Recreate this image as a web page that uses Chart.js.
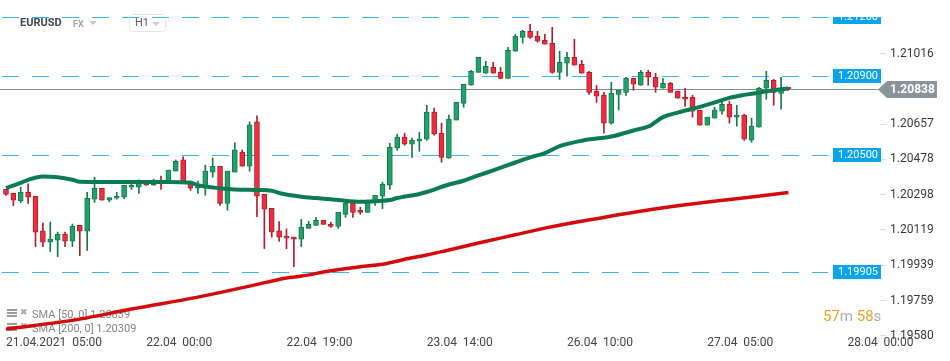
<!DOCTYPE html>
<html><head><meta charset="utf-8">
<script src="https://cdn.jsdelivr.net/npm/chart.js@4.4.0/dist/chart.umd.min.js"></script>
<style>
html,body{margin:0;padding:0;background:#fff;}
#wrap{position:relative;width:950px;height:361px;}
canvas{display:block;}
</style></head><body>
<div id="wrap"><canvas id="c" width="950" height="361"></canvas></div>
<script>
// ---------- data ----------
const symbol = 'EURUSD';
const market = 'FX';
const timeframe = 'H1';
const tickIndex = [0, 19, 38, 57, 76, 95, 114];
const tickLabels = ['21.04.2021  05:00', '22.04  00:00', '22.04  19:00', '23.04  14:00', '26.04  10:00', '27.04  05:00', '28.04  00:00'];
const yTicks = [1.19580, 1.19759, 1.19939, 1.20119, 1.20298, 1.20478, 1.20657, 1.21016];

const opens = [1.20325,1.20305,1.20267,1.20310,1.20290,1.20114,1.20057,1.20067,1.20097,1.20062,
1.20142,1.20113,1.20275,1.20331,1.20270,1.20280,1.20285,1.20336,1.20336,1.20362,
1.20346,1.20372,1.20362,1.20418,1.20475,1.20367,1.20331,1.20331,1.20413,1.20443,
1.20254,1.20413,1.20515,1.20443,1.20669,1.20300,1.20229,1.20114,1.20087,1.20082,
1.20072,1.20127,1.20142,1.20168,1.20147,1.20137,1.20198,1.20254,1.20219,1.20208,
1.20264,1.20290,1.20346,1.20535,1.20591,1.20555,1.20570,1.20581,1.20718,1.20611,
1.20484,1.20678,1.20763,1.20855,1.20921,1.20916,1.20946,1.20921,1.20890,1.21028,
1.21099,1.21130,1.21104,1.21084,1.21069,1.20921,1.20967,1.20997,1.20962,1.20921,
1.20825,1.20804,1.20662,1.20809,1.20819,1.20890,1.20855,1.20921,1.20896,1.20840,
1.20865,1.20825,1.20794,1.20794,1.20729,1.20652,1.20688,1.20723,1.20758,1.20693,
1.20703,1.20575,1.20642,1.20840,1.20880,1.20814,1.20845];
const highs = [1.20325,1.20305,1.20336,1.20353,1.20290,1.20154,1.20159,1.20108,1.20108,1.20149,
1.20142,1.20310,1.20387,1.20331,1.20283,1.20310,1.20346,1.20362,1.20374,1.20362,
1.20377,1.20393,1.20423,1.20475,1.20491,1.20367,1.20367,1.20448,1.20485,1.20443,
1.20418,1.20562,1.20526,1.20669,1.20699,1.20300,1.20229,1.20161,1.20124,1.20082,
1.20173,1.20163,1.20183,1.20168,1.20158,1.20208,1.20264,1.20254,1.20234,1.20271,
1.20295,1.20362,1.20560,1.20606,1.20611,1.20586,1.20616,1.20753,1.20739,1.20662,
1.20703,1.20768,1.20860,1.20931,1.20997,1.20977,1.20972,1.20946,1.21048,1.21114,
1.21135,1.21165,1.21130,1.21114,1.21150,1.21028,1.21023,1.21089,1.20982,1.20926,
1.20855,1.20819,1.20870,1.20830,1.20896,1.20890,1.20931,1.20931,1.20916,1.20890,
1.20870,1.20825,1.20840,1.20804,1.20729,1.20693,1.20743,1.20768,1.20774,1.20753,
1.20708,1.20688,1.20845,1.20926,1.20885,1.20896,1.20845];
const lows = [1.20295,1.20242,1.20257,1.20254,1.20034,1.20034,1.20009,1.19983,1.20034,1.20034,
1.19988,1.20014,1.20259,1.20270,1.20262,1.20275,1.20278,1.20325,1.20305,1.20346,
1.20346,1.20325,1.20362,1.20418,1.20367,1.20320,1.20305,1.20295,1.20387,1.20244,
1.20219,1.20413,1.20443,1.20418,1.20186,1.20024,1.20082,1.20060,1.20023,1.19932,
1.20034,1.20127,1.20142,1.20147,1.20132,1.20127,1.20183,1.20183,1.20198,1.20208,
1.20244,1.20227,1.20325,1.20524,1.20550,1.20488,1.20519,1.20575,1.20601,1.20463,
1.20484,1.20678,1.20743,1.20855,1.20921,1.20916,1.20916,1.20890,1.20890,1.21028,
1.21069,1.21094,1.21074,1.21064,1.20916,1.20885,1.20901,1.20957,1.20916,1.20809,
1.20768,1.20611,1.20657,1.20729,1.20804,1.20830,1.20855,1.20855,1.20819,1.20840,
1.20819,1.20789,1.20748,1.20693,1.20652,1.20652,1.20688,1.20708,1.20662,1.20647,
1.20575,1.20565,1.20642,1.20784,1.20753,1.20734,1.20830];
const closes = [1.20300,1.20270,1.20310,1.20285,1.20108,1.20057,1.20072,1.20097,1.20062,1.20137,
1.20113,1.20280,1.20331,1.20270,1.20283,1.20290,1.20346,1.20346,1.20362,1.20346,
1.20372,1.20367,1.20423,1.20468,1.20367,1.20331,1.20346,1.20418,1.20443,1.20254,
1.20418,1.20526,1.20443,1.20654,1.20290,1.20224,1.20108,1.20082,1.20077,1.20072,
1.20132,1.20147,1.20168,1.20147,1.20137,1.20208,1.20254,1.20208,1.20208,1.20259,
1.20295,1.20351,1.20540,1.20591,1.20555,1.20575,1.20581,1.20718,1.20606,1.20488,
1.20683,1.20768,1.20860,1.20926,1.20997,1.20951,1.20916,1.20890,1.21033,1.21104,
1.21130,1.21099,1.21079,1.21064,1.20921,1.20972,1.20997,1.20957,1.20916,1.20819,
1.20799,1.20662,1.20814,1.20830,1.20890,1.20860,1.20921,1.20896,1.20845,1.20865,
1.20819,1.20789,1.20784,1.20723,1.20652,1.20693,1.20729,1.20758,1.20693,1.20703,
1.20581,1.20647,1.20840,1.20880,1.20819,1.20840,1.20838];

const sma50Idx = [0,2,3,5,7,9,10,13,17,22,25,26,29,31,34,36,37,40,42,45,48,51,52,53,56,57,60,62,64,66,69,71,73,75,78,80,82,85,87,89,91,94,96,98,100,103,105,106];
const sma50Val = [1.20332,1.20358,1.20374,1.20391,1.20387,1.20374,1.20364,1.20363,1.20363,1.20363,
1.20359,1.20347,1.20331,1.20325,1.20322,1.20318,1.20307,1.20288,1.20281,1.20271,
1.20262,1.20267,1.20271,1.20281,1.20302,1.20312,1.20350,1.20369,1.20396,1.20422,
1.20462,1.20488,1.20510,1.20545,1.20573,1.20584,1.20594,1.20625,1.20645,1.20693,
1.20716,1.20745,1.20768,1.20791,1.20806,1.20824,1.20835,1.20839];
const sma200Idx = [0,10,17,26,33,38,40,44,48,51,55,57,60,64,69,73,80,87,94,101,106];
const sma200Val = [1.19614,1.19665,1.19716,1.19777,1.19833,1.19874,1.19884,1.19911,1.19932,1.19944,
1.19977,1.19991,1.20017,1.20052,1.20094,1.20128,1.20176,1.20220,1.20256,1.20286,
1.20309];

const levels = [1.21200, 1.20900, 1.20500, 1.19905];
const legendNames = ['SMA [50, 0]', 'SMA [200, 0]'];
const legendValues = [1.20839, 1.20309];
const countdown = [['57', 'o'], ['m', 'g'], [' ', 'g'], ['58', 'o'], ['s', 'g']];

// ---------- styles ----------
const FONT = 'Roboto, "Noto Sans", sans-serif';
const UP = '#22a26b', UP_B = '#127a4b', DN = '#f02c3e', DN_B = '#b21d2c';
const LEVEL = '#38b3ee', LEVEL_BOX = '#0aa4ec';
const isUp = i => closes[i] >= opens[i];

const overlay = {
  id: 'overlay',
  beforeDatasetsDraw(chart) {
    const {ctx, chartArea: a, scales: {y}} = chart;
    ctx.save();
    ctx.lineWidth = 1;
    ctx.strokeStyle = LEVEL;
    ctx.setLineDash([17, 13]);
    ctx.lineDashOffset = -2;
    levels.forEach(v => {
      const py = Math.round(y.getPixelForValue(v)) + 0.5;
      ctx.beginPath(); ctx.moveTo(a.left, py); ctx.lineTo(a.right - 52, py); ctx.stroke();
    });
    ctx.setLineDash([]);
    const last = closes[closes.length - 1];
    const pp = Math.round(y.getPixelForValue(last)) + 0.5;
    ctx.strokeStyle = '#7f8d92';
    ctx.beginPath(); ctx.moveTo(a.left, pp); ctx.lineTo(a.right, pp); ctx.stroke();

    // legend (under the lines)
    ctx.textBaseline = 'middle';
    legendNames.forEach((n, k) => {
      const ly = 314 + k * 14;
      ctx.fillStyle = '#9a9a9a';
      ctx.fillRect(7, ly - 5, 10, 2);
      ctx.fillRect(7, ly - 2, 10, 2);
      ctx.fillRect(7, ly + 1, 10, 2);
      ctx.font = '9px "DejaVu Sans"';
      ctx.fillStyle = '#a8a8a8';
      ctx.fillText('\u2716', 20, ly - 1);
      ctx.font = '11px ' + FONT;
      ctx.fillStyle = '#858585';
      ctx.fillText(n + ' ' + legendValues[k].toFixed(5), 32, ly + 1);
    });
    ctx.restore();
  },
  afterDraw(chart) {
    const {ctx, chartArea: a, scales: {y}} = chart;
    ctx.save();
    // level boxes
    ctx.save();
    ctx.beginPath(); ctx.rect(0, 17, 950, 344); ctx.clip();
    levels.forEach(v => {
      const py = Math.round(y.getPixelForValue(v));
      ctx.fillStyle = LEVEL_BOX;
      ctx.fillRect(a.right - 47, py - 7, 48, 14);
      ctx.fillStyle = '#fff';
      ctx.font = '11px ' + FONT;
      ctx.textBaseline = 'middle';
      ctx.fillText(v.toFixed(5), a.right - 42, py + 0.5);
    });
    ctx.restore();
    // current price label
    const last = closes[closes.length - 1];
    const pp = Math.round(y.getPixelForValue(last)) + 0.5;
    ctx.fillStyle = '#8a9599';
    ctx.beginPath();
    ctx.moveTo(a.right - 2, pp);
    ctx.lineTo(a.right + 7, pp - 8.5);
    ctx.lineTo(a.right + 57, pp - 8.5);
    ctx.lineTo(a.right + 57, pp + 8.5);
    ctx.lineTo(a.right + 7, pp + 8.5);
    ctx.closePath(); ctx.fill();
    ctx.fillStyle = '#fff';
    ctx.font = 'bold 12px ' + FONT;
    ctx.textBaseline = 'middle';
    ctx.fillText(last.toFixed(5), a.right + 10, pp + 0.5);

    // countdown
    let cx = a.right - 57;
    ctx.font = '15px ' + FONT;
    countdown.forEach(([t, c]) => {
      ctx.fillStyle = c === 'o' ? '#f5a01a' : '#a9adb0';
      ctx.fillText(t, cx, 317);
      cx += ctx.measureText(t).width;
    });

    // header
    ctx.fillStyle = '#3c4752';
    ctx.font = 'bold 11px ' + FONT;
    ctx.fillText(symbol, 20, 23.5);
    ctx.fillStyle = '#9ba5ab';
    ctx.font = 'bold 9px ' + FONT;
    ctx.fillText(market, 73, 24.5);
    const tri = (x, yy, c) => { ctx.fillStyle = c; ctx.beginPath(); ctx.moveTo(x, yy); ctx.lineTo(x + 8, yy); ctx.lineTo(x + 4, yy + 4); ctx.closePath(); ctx.fill(); };
    tri(89, 21, '#c3c8cb');
    ctx.strokeStyle = '#e2e5e7'; ctx.lineWidth = 1;
    ctx.beginPath(); ctx.roundRect(129.5, 14.5, 36, 17, 3); ctx.stroke();
    ctx.fillStyle = '#555d63';
    ctx.font = '11px ' + FONT;
    ctx.fillText(timeframe, 135, 23.5);
    tri(152, 22, '#c8ccce');
    ctx.restore();
  }
};

new Chart(document.getElementById('c'), {
  type: 'bar',
  data: {
    datasets: [
      {
        type: 'line', label: 'SMA50', order: 0,
        data: sma50Idx.map((x, k) => ({x, y: sma50Val[k]})),
        borderColor: '#0a7b52', borderWidth: 4, pointRadius: 0,
        cubicInterpolationMode: 'monotone', fill: false
      },
      {
        type: 'line', label: 'SMA200', order: 1,
        data: sma200Idx.map((x, k) => ({x, y: sma200Val[k]})),
        borderColor: '#d50b0b', borderWidth: 3.5, pointRadius: 0,
        cubicInterpolationMode: 'monotone', fill: false
      },
      {
        label: 'body', order: 2, grouped: false,
        data: opens.map((o, i) => ({x: i, y: [o, closes[i]]})),
        backgroundColor: c => isUp(c.dataIndex) ? UP : DN,
        borderColor: c => isUp(c.dataIndex) ? UP_B : DN_B,
        borderWidth: 1, borderSkipped: false, barThickness: 5
      },
      {
        label: 'wick', order: 3, grouped: false,
        data: lows.map((l, i) => ({x: i, y: [l, highs[i]]})),
        backgroundColor: c => isUp(c.dataIndex) ? UP_B : DN_B,
        borderWidth: 0, barThickness: 1
      }
    ]
  },
  options: {
    responsive: false, animation: false, devicePixelRatio: 1,
    layout: {padding: 0},
    plugins: {legend: {display: false}, tooltip: {enabled: false}, title: {display: false}},
    scales: {
      x: {
        type: 'linear', min: -0.81, max: 118.4, offset: false,
        grid: {display: true, drawOnChartArea: false, drawTicks: false, offset: false},
        border: {display: false},
        afterBuildTicks: s => { s.ticks = tickIndex.map(v => ({value: v})); },
        afterFit: s => { s.height = 25; s.paddingLeft = 0; s.paddingRight = 0; },
        ticks: {
          align: 'start', autoSkip: false, maxRotation: 0, padding: 0,
          color: '#444', font: {family: FONT, size: 12},
          callback: v => tickLabels[tickIndex.indexOf(v)] || ''
        }
      },
      y: {
        type: 'linear', position: 'right', min: 1.19579, max: 1.21289, beginAtZero: false,
        grid: {drawOnChartArea: false, drawTicks: true, tickLength: 6, color: '#dcdcdc'},
        border: {display: false},
        afterBuildTicks: s => { s.ticks = yTicks.map(v => ({value: v})); },
        afterFit: s => { s.width = 70; s.paddingTop = 0; s.paddingBottom = 0; },
        ticks: {
          padding: 4, color: '#383838', font: {family: FONT, size: 12},
          callback: v => Number(v).toFixed(5)
        }
      }
    }
  },
  plugins: [overlay]
});
</script>
</body></html>
